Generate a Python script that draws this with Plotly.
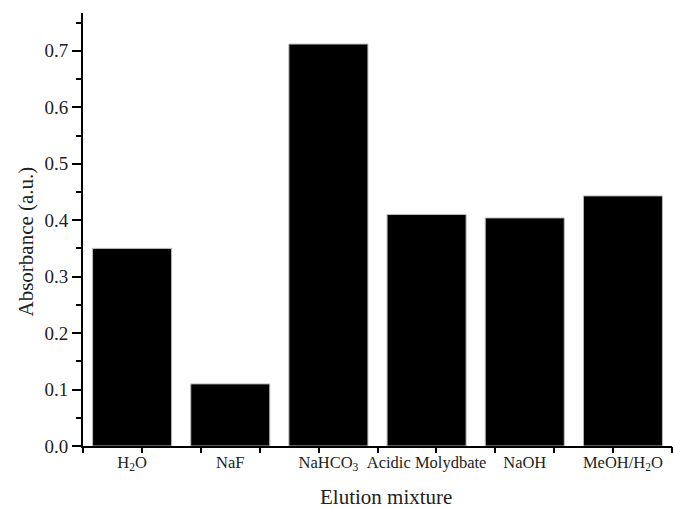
import plotly.graph_objects as go

categories = ["H2O", "NaF", "NaHCO3", "Acidic Molydbate", "NaOH", "MeOH/H2O"]
tick_labels = ["H<sub>2</sub>O", "NaF", "NaHCO<sub>3</sub>", "Acidic Molydbate", "NaOH", "MeOH/H<sub>2</sub>O"]
absorbance = [0.350, 0.110, 0.712, 0.410, 0.404, 0.443]
x_title = "Elution mixture"
y_title = "Absorbance (a.u.)"

FONT = "Liberation Serif, Times New Roman, serif"

fig = go.Figure()
fig.add_trace(go.Bar(
    x=categories, y=absorbance, width=0.805,
    marker=dict(color="black", line=dict(color="#bbbbbb", width=1)),
    showlegend=False,
))
# invisible trace to activate the decorative tick axis
fig.add_trace(go.Scatter(x=[0, 10], y=[0, 0], xaxis="x2", mode="lines",
                         line=dict(width=0), hoverinfo="skip", showlegend=False))

fig.update_layout(
    width=673, height=508,
    margin=dict(l=83, r=1, t=13, b=62),
    plot_bgcolor="white", paper_bgcolor="white",
    font=dict(family=FONT, color="black"),
    xaxis=dict(
        type="category", range=[-0.5, 5.5],
        tickvals=categories, ticktext=tick_labels,
        ticks="", showline=True, linecolor="black", linewidth=2,
        tickfont=dict(size=16.5, family=FONT, color="#222"),
        showgrid=False, zeroline=False,
    ),
    xaxis2=dict(
        overlaying="x", range=[0, 10], dtick=1, tick0=0,
        ticks="outside", ticklen=6, tickwidth=2, tickcolor="black",
        showticklabels=False, showgrid=False, zeroline=False, showline=False,
        side="bottom", anchor="y",
    ),
    yaxis=dict(
        range=[0, 0.767], dtick=0.1, tick0=0, tickformat=".1f",
        ticks="outside", ticklen=9, tickwidth=2, tickcolor="black",
        minor=dict(dtick=0.05, ticks="outside", ticklen=5, tickwidth=2, tickcolor="black"),
        showline=True, linecolor="black", linewidth=2,
        tickfont=dict(size=19, family=FONT, color="#222"),
        showgrid=False, zeroline=False,
    ),
    bargap=0.2,
    annotations=[
        dict(text=x_title, xref="paper", yref="paper", x=0.515, y=-0.118,
             xanchor="center", yanchor="middle", showarrow=False,
             font=dict(size=21, family=FONT, color="#222")),
        dict(text=y_title, xref="paper", yref="paper", x=-0.097, y=0.472,
             xanchor="center", yanchor="middle", showarrow=False, textangle=-90,
             font=dict(size=21, family=FONT, color="#222")),
    ],
)

fig.write_html("out.html")
